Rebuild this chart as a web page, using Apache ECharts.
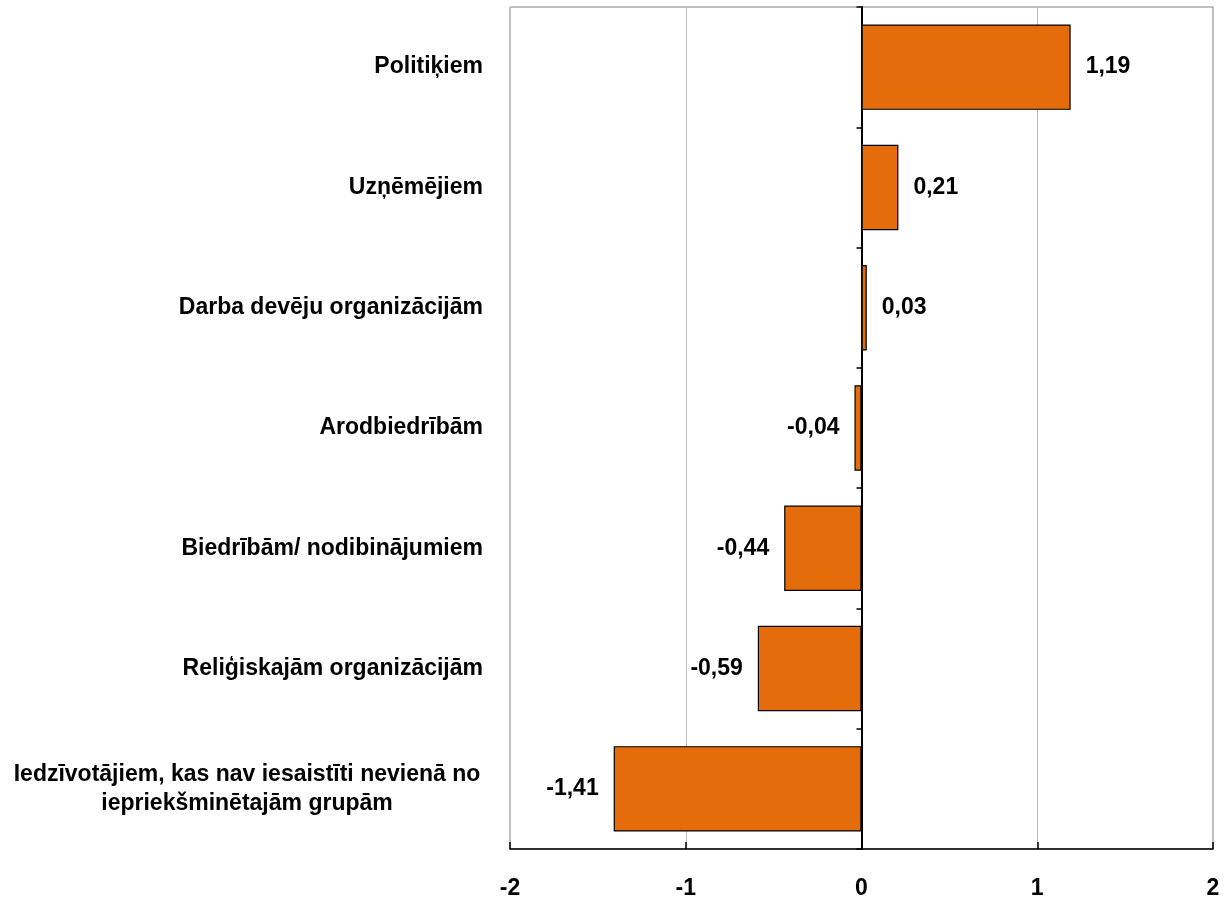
<!DOCTYPE html>
<html>
<head>
<meta charset="utf-8">
<script src="https://cdn.jsdelivr.net/npm/echarts@6/dist/echarts.min.js"></script>
<style>
	html, body { margin: 0; padding: 0; background: #fff; }
	#chart { width: 1225px; height: 913px; }
</style>
</head>
<body>
<div id="chart"></div>
<script>
// 数据
var categories = [
	'Politiķiem',
	'Uzņēmējiem',
	'Darba devēju organizācijām',
	'Arodbiedrībām',
	'Biedrībām/ nodibinājumiem',
	'Reliģiskajām organizācijām',
	'Iedzīvotājiem, kas nav iesaistīti nevienā no\niepriekšminētajām grupām'
];
var values = [1.19, 0.21, 0.03, -0.04, -0.44, -0.59, -1.41];
var xTicks = [-2, -1, 0, 1, 2];

var font = 'Arial, "Liberation Sans", sans-serif';

(function() {
	var myChart = echarts.init(document.getElementById('chart'));
	var option = {
		animation: false,
		grid: {
			left: 510,
			right: 12,
			top: 7,
			bottom: 64,
			show: true,
			borderColor: '#808080',
			borderWidth: 1
		},
		xAxis: {
			type: 'value',
			min: xTicks[0],
			max: xTicks[xTicks.length - 1],
			interval: 1,
			axisLine: {
				show: true,
				onZero: false,
				lineStyle: { color: '#000', width: 1.5 }
			},
			axisTick: {
				show: true,
				inside: true,
				length: 7,
				lineStyle: { color: '#000', width: 1.5 }
			},
			axisLabel: {
				color: '#000',
				fontFamily: font,
				fontWeight: 'bold',
				fontSize: 23,
				margin: 28
			},
			splitLine: {
				lineStyle: { color: '#c0c0c0', width: 1 }
			}
		},
		yAxis: [{
			// 左侧分类文字
			type: 'category',
			inverse: true,
			data: categories,
			axisLine: { show: false, onZero: false },
			axisTick: { show: false },
			axisLabel: {
				color: '#000',
				fontFamily: font,
				fontWeight: 'bold',
				fontSize: 23,
				margin: 27,
				lineHeight: 29,
				// 两行文字居中
				formatter: function(v) {
					if (v.indexOf('\n') > -1) {
						return v.split('\n').map(function(s) {
							return '{c|' + s + '}';
						}).join('\n');
					}
					return v;
				},
				rich: {
					c: {
						width: 472,
						align: 'center',
						fontFamily: font,
						fontWeight: 'bold',
						fontSize: 23,
						lineHeight: 29,
						color: '#000'
					}
				}
			}
		}, {
			// 零线和刻度
			type: 'category',
			inverse: true,
			position: 'left',
			data: categories,
			axisLine: {
				show: true,
				onZero: true,
				lineStyle: { color: '#000', width: 2 }
			},
			axisTick: {
				show: true,
				length: 5,
				lineStyle: { color: '#000', width: 1.5 }
			},
			axisLabel: { show: false }
		}],
		series: [{
			type: 'bar',
			yAxisIndex: 0,
			barWidth: '71%',
			itemStyle: {
				color: '#e46c0a',
				borderColor: '#000',
				borderWidth: 1.2
			},
			label: {
				show: true,
				color: '#000',
				fontFamily: font,
				fontWeight: 'bold',
				fontSize: 23,
				distance: 15,
				formatter: function(p) {
					return p.value.toFixed(2).replace('.', ',');
				}
			},
			data: values.map(function(v) {
				return {
					value: v,
					label: { position: v >= 0 ? 'right' : 'left' }
				};
			}),
			z: 3
		}]
	};
	myChart.setOption(option);
	window.addEventListener('resize', function() {
		myChart.resize();
	});
})();
</script>
</body>
</html>
